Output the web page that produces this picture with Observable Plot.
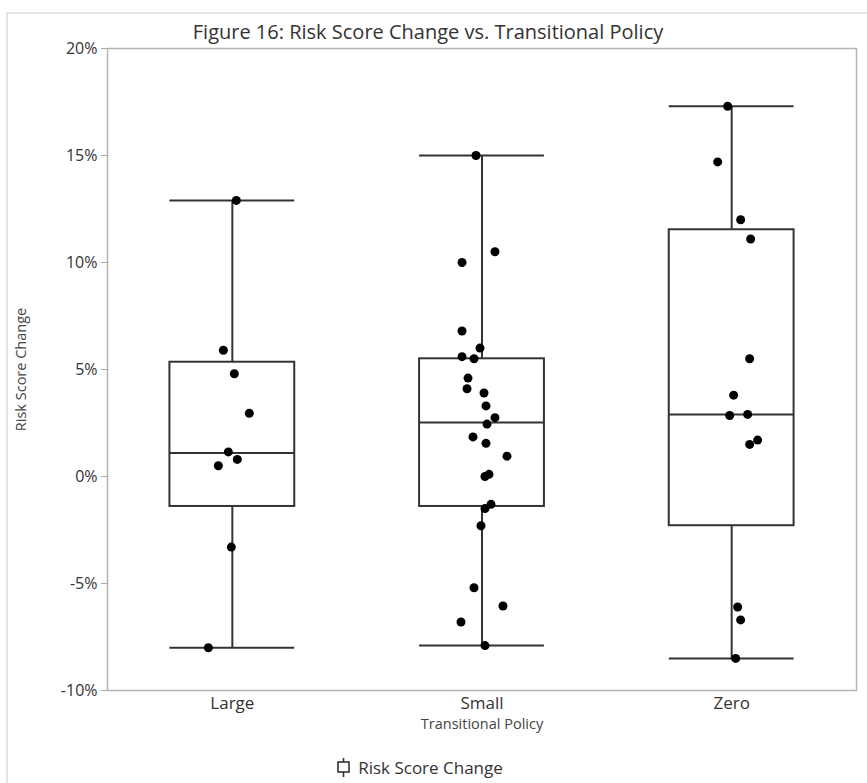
<!DOCTYPE html>
<html>
<head>
<meta charset="utf-8">
<script src="https://cdn.jsdelivr.net/npm/d3@7"></script>
<script src="https://cdn.jsdelivr.net/npm/@observablehq/plot@0.6"></script>
<style>
  body { margin: 0; background: white; font-family: "Open Sans", sans-serif; overflow: hidden; }
  #outer { position: absolute; left: 6px; top: 12px; width: 900px; height: 800px;
           border-left: 2px solid #e4e4e4; border-top: 2px solid #e4e4e4; }
  #chart { position: absolute; left: 0; top: 30px; }
  #title { position: absolute; left: 0; top: 20px; width: 856px; text-align: center;
           font-size: 20px; line-height: 24px; color: #333; }
  #legend { position: absolute; left: 0; top: 756px; width: 840px; text-align: center;
            font-size: 17px; line-height: 24px; color: #333; }
  #legend svg { vertical-align: -3px; margin-right: 8px; }
</style>
</head>
<body>
<div id="outer"></div>
<div id="chart"></div>
<div id="title">Figure 16: Risk Score Change vs. Transitional Policy</div>
<div id="legend"><svg width="13" height="19"><line x1="6.5" y1="0" x2="6.5" y2="19" stroke="#333" stroke-width="1.6"/><rect x="1" y="4" width="11" height="10" fill="white" stroke="#333" stroke-width="1.6"/></svg>Risk Score Change</div>
<script>
// categories and tick labels
const categories = ['Large', 'Small', 'Zero']
const yTicks = [-10, -5, 0, 5, 10, 15, 20]

// risk score change (%) per policy
const largeValues = [12.9, 5.9, 4.8, 2.95, 1.15, 0.8, 0.5, -3.3, -8.0]
const largeJitter = [0.016, -0.036, 0.008, 0.068, -0.016, 0.02, -0.056, -0.004, -0.096]

const smallValues = [15.0, 10.5, 10.0, 6.8, 6.0, 5.6, 5.5, 4.6, 4.1, 3.9, 3.3, 2.75, 2.45,
  1.85, 1.55, 0.95, 0.1, 0.0, -1.3, -1.5, -2.3, -5.2, -6.05, -6.8, -7.9]
const smallJitter = [-0.024, 0.052, -0.08, -0.08, -0.008, -0.08, -0.032, -0.056, -0.06, 0.008, 0.016, 0.052, 0.02,
  -0.036, 0.016, 0.1, 0.028, 0.012, 0.036, 0.012, -0.004, -0.032, 0.084, -0.084, 0.012]

const zeroValues = [17.3, 14.7, 12.0, 11.1, 5.5, 3.8, 2.9, 2.85, 1.7, 1.5, -6.1, -6.7, -8.5]
const zeroJitter = [-0.016, -0.056, 0.036, 0.076, 0.072, 0.008, 0.064, -0.008, 0.104, 0.072, 0.024, 0.036, 0.016]

// box statistics as drawn (quartiles of the original tool)
const q1 = [-1.4, -1.4, -2.3]
const medians = [1.1, 2.52, 2.9]
const q3 = [5.34, 5.5, 11.53]

const groups = [largeValues, smallValues, zeroValues]
const jitters = [largeJitter, smallJitter, zeroJitter]

const stats = categories.map((c, i) => ({
  i: i,
  lo: d3.min(groups[i]),
  hi: d3.max(groups[i]),
  q1: q1[i],
  median: medians[i],
  q3: q3[i]
}))

const points = []
groups.forEach((vals, i) => {
  vals.forEach((v, j) => points.push({i: i, jitter: jitters[i][j], value: v}))
})

const half = 0.25
const ink = '#333'

let chart = Plot.plot({
  width: 867,
  height: 710,
  marginLeft: 107,
  marginRight: 11,
  marginTop: 18,
  marginBottom: 50,
  style: {fontFamily: '"Open Sans", sans-serif', color: '#333', background: 'transparent'},
  x: {domain: [-0.5, 2.5]},
  y: {domain: [-10, 20]},
  marks: [
    Plot.frame({stroke: '#b5b5b5', strokeWidth: 1.5}),
    Plot.axisY({
      ticks: yTicks,
      tickFormat: d => d + '%',
      tickSize: 6,
      tickPadding: 4,
      fontSize: 16,
      stroke: '#aaa',
      fill: '#333',
      label: null
    }),
    Plot.axisX({
      ticks: [0, 1, 2],
      tickFormat: i => categories[i],
      tickSize: 0,
      tickPadding: 6,
      fontSize: 17,
      fill: '#333',
      label: null
    }),
    Plot.text(['Transitional Policy'], {frameAnchor: 'bottom', dy: 38, fontSize: 14.5, fill: '#444'}),
    Plot.text(['Risk Score Change'], {frameAnchor: 'left', dx: -86, rotate: -90, textAnchor: 'middle',
      fontSize: 14.5, fill: '#444'}),
    // whiskers
    Plot.ruleX(stats, {x: 'i', y1: 'lo', y2: 'q1', stroke: ink, strokeWidth: 2}),
    Plot.ruleX(stats, {x: 'i', y1: 'q3', y2: 'hi', stroke: ink, strokeWidth: 2}),
    Plot.ruleY(stats, {y: 'lo', x1: d => d.i - half, x2: d => d.i + half, stroke: ink, strokeWidth: 2}),
    Plot.ruleY(stats, {y: 'hi', x1: d => d.i - half, x2: d => d.i + half, stroke: ink, strokeWidth: 2}),
    // boxes
    Plot.rect(stats, {x1: d => d.i - half, x2: d => d.i + half, y1: 'q1', y2: 'q3',
      fill: 'white', stroke: ink, strokeWidth: 2}),
    Plot.ruleY(stats, {y: 'median', x1: d => d.i - half, x2: d => d.i + half, stroke: ink, strokeWidth: 2}),
    // jittered points
    Plot.dot(points, {x: d => d.i + d.jitter, y: 'value', r: 4.5, fill: 'black', stroke: null})
  ]
})
d3.select('#chart').append(() => chart)
</script>
</body>
</html>
